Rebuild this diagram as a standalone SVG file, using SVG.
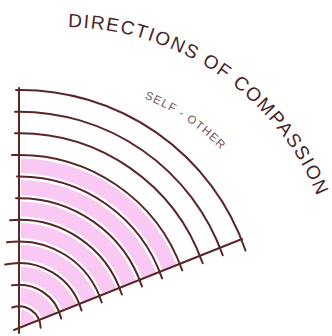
<svg xmlns="http://www.w3.org/2000/svg" width="332" height="336" viewBox="0 0 332 336">
  <style>
    .ln { fill: none; stroke: #5a2628; stroke-width: 2; stroke-linecap: round; }
    .band { fill: none; stroke: #f9c9f3; stroke-width: 15; }
    .title { font-family: "Liberation Sans", Arial, sans-serif; font-size: 19px; letter-spacing: 1.6px; fill: #4a2326; }
    .sub { font-family: "Liberation Sans", Arial, sans-serif; font-size: 11.5px; letter-spacing: 1.2px; fill: #725457; }
  </style>
  <defs>
    <clipPath id="sector">
      <polygon points="21,326 21,100 260,100 260,230.6"/>
    </clipPath>
    <path id="titlePath" d="M 64,27 A 274 274 0 0 1 328.7,230"/>
    <path id="subPath" d="M 64,83 A 218 218 0 0 1 252.8,192"/>
  </defs>
  <rect width="332" height="336" fill="#ffffff"/>

  <g id="fill" clip-path="url(#sector)">
    <circle cx="19" cy="328" r="9" fill="#f9c9f3"/>
    <circle class="band" cx="19" cy="328" r="10.8" stroke-width="18"/>
    <circle class="band" cx="19" cy="328" r="32.5"/>
    <circle class="band" cx="19" cy="328" r="54.1"/>
    <circle class="band" cx="19" cy="328" r="75.7"/>
    <circle class="band" cx="19" cy="328" r="97.4"/>
    <circle class="band" cx="19" cy="328" r="119"/>
    <circle class="band" cx="19" cy="328" r="140.6"/>
    <circle class="band" cx="19" cy="328" r="162.3"/>
  </g>

  <g id="connectors">
    <g id="axes">
      <line class="ln" x1="19" y1="333" x2="19" y2="88"/>
      <line class="ln" x1="14" y1="330" x2="242" y2="239"/>
    </g>
    <g id="arcs">
      <path class="ln" d="M 12.12,307.48 A 21.64 21.64 0 0 1 40.64,327.8"/>
      <path class="ln" d="M 12.03,285.30 A 43.27 43.27 0 0 1 61.25,318.64"/>
      <path class="ln" d="M 5.11,264.60 A 64.91 64.91 0 0 1 81.53,310.57"/>
      <path class="ln" d="M 7.04,242.28 A 86.55 86.55 0 0 1 101.71,302.51"/>
      <path class="ln" d="M 10.01,220.19 A 108.18 108.18 0 0 1 121.86,294.49"/>
      <path class="ln" d="M 16.0,198.21 A 129.82 129.82 0 0 1 141.99,286.44"/>
      <path class="ln" d="M 17.0,176.56 A 151.45 151.45 0 0 1 162.11,278.42"/>
      <path class="ln" d="M 12.0,155.05 A 173.09 173.09 0 0 1 182.23,270.40"/>
      <path class="ln" d="M 15.0,133.31 A 194.73 194.73 0 0 1 202.67,263.29"/>
      <path class="ln" d="M 15.0,111.68 A 216.36 216.36 0 0 1 222.77,255.28"/>
      <path class="ln" d="M 16.0,90.02 A 238 238 0 0 1 245.5,250.5"/>
    </g>
  </g>

  <g id="title">
    <text class="title"><textPath href="#titlePath" startOffset="4">DIRECTIONS</textPath></text>
    <text class="title"><textPath href="#titlePath" startOffset="144">OF</textPath></text>
    <text class="title"><textPath href="#titlePath" startOffset="180.6">COMPASSION</textPath></text>
  </g>
  <g id="subtitle">
    <text class="sub"><textPath href="#subPath" startOffset="82">SELF - OTHER</textPath></text>
  </g>
</svg>
